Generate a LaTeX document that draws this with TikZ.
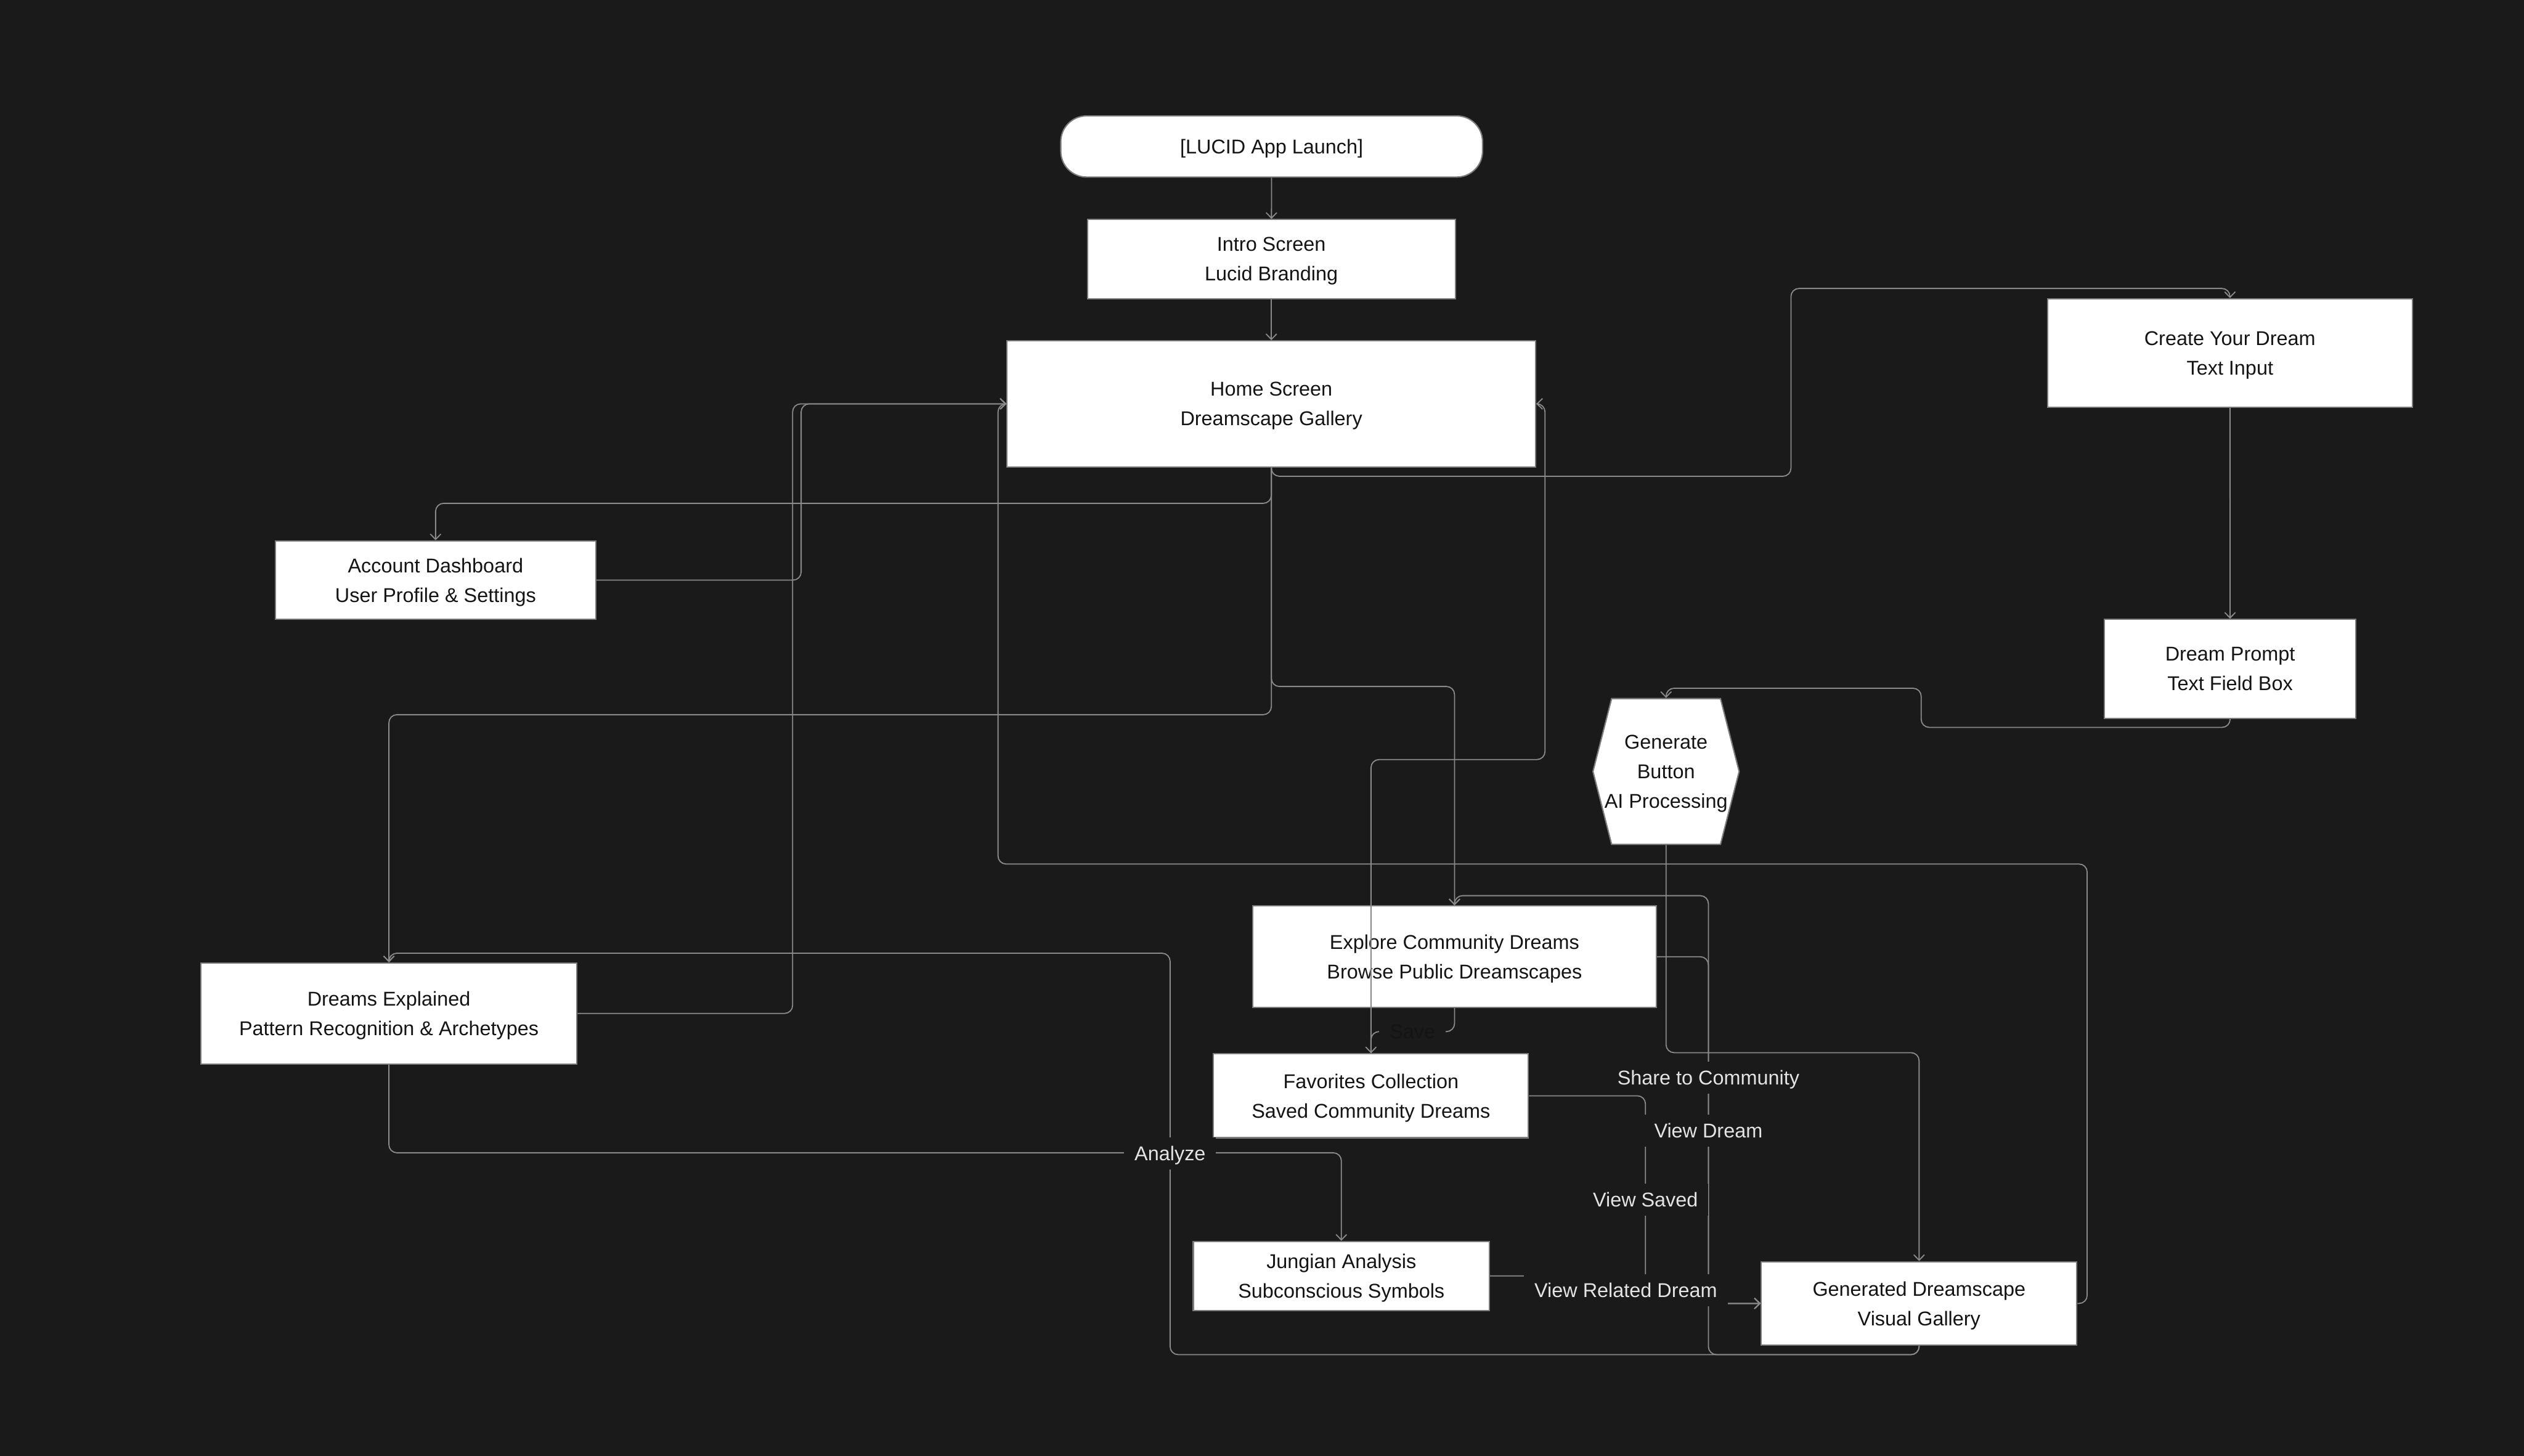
\documentclass[tikz,border=0pt]{standalone}
\usepackage{fontspec}
\setmainfont{Liberation Sans}
\usetikzlibrary{arrows.meta}

\definecolor{fons}{HTML}{1B1A1B}
\definecolor{linia}{HTML}{8A8A8A}
\definecolor{vora}{HTML}{7C7C7C}
\definecolor{textclar}{HTML}{E4E4E4}
\definecolor{textfosc}{HTML}{141414}

\begin{document}
\begin{tikzpicture}[x=1pt, y=-1pt,
    screen/.style={draw=vora, line width=0.8pt, fill=white, text=textfosc, align=center,
        font=\fontsize{12.4}{18.3}\selectfont, inner sep=0pt, text depth=0pt},
    flow/.style={draw=linia, line width=0.7pt, rounded corners=5pt,
        -{Straight Barb[length=3.4pt, width=6.6pt]}},
    edgelabel/.style={fill=fons, text=textclar, font=\fontsize{12.4}{15}\selectfont,
        inner xsep=6.5pt, inner ysep=0pt, text height=8.9pt, text depth=0pt, minimum height=20pt}]

    % FONS
    \fill[fons] (0,0) rectangle (1568,904.4);
    \useasboundingbox (0,0) rectangle (1568,904.4);

    % PANTALLES
    \node[screen, rounded corners=16pt, minimum width=262pt, minimum height=38pt] (launch) at (790,91) {[LUCID App Launch]};
    \node[screen, minimum width=228.5pt, minimum height=49.2pt] (intro) at (789.8,161) {Intro Screen\\Lucid Branding};
    \node[screen, minimum width=328.3pt, minimum height=78.3pt] (home) at (789.8,250.9) {Home Screen\\Dreamscape Gallery};
    \node[screen, minimum width=226.7pt, minimum height=67.4pt] (create) at (1385.3,219.3) {Create Your Dream\\Text Input};
    \node[screen, minimum width=199.2pt, minimum height=48.7pt] (account) at (270.6,360.4) {Account Dashboard\\User Profile \& Settings};
    \node[screen, minimum width=156.3pt, minimum height=61.4pt] (prompt) at (1385.4,415.5) {Dream Prompt\\Text Field Box};

    % Boto hexagonal
    \draw[draw=vora, line width=0.8pt, fill=white] (989.6,479.3) -- (1001.2,434) -- (1068.8,434)
        -- (1080.4,479.3) -- (1068.8,524.6) -- (1001.2,524.6) -- cycle;
    \node[screen, draw=none, fill=none, minimum width=90.8pt, minimum height=90.6pt] (generate) at (1035,479.3) {Generate\\Button\\AI Processing};

    \node[screen, minimum width=250.8pt, minimum height=63.1pt] (explore) at (903.6,594.4) {Explore Community Dreams\\Browse Public Dreamscapes};
    \node[screen, minimum width=233.6pt, minimum height=62.7pt] (explained) at (241.6,629.6) {Dreams Explained\\Pattern Recognition \& Archetypes};
    \node[screen, minimum width=195.6pt, minimum height=52.1pt] (favorites) at (851.7,680.8) {Favorites Collection\\Saved Community Dreams};
    \node[screen, minimum width=184pt, minimum height=42.9pt] (jungian) at (833.3,792.7) {Jungian Analysis\\Subconscious Symbols};
    \node[screen, minimum width=196pt, minimum height=51.9pt] (generated) at (1192.2,809.8) {Generated Dreamscape\\Visual Gallery};

    % FLUX PRINCIPAL
    \draw[flow] (launch) -- (intro);
    \draw[flow] (intro) -- (home);
    \draw[flow] (home.south) |- (1112.6,295.9) |- ([yshift=6pt]create.north) -- (create.north);
    \draw[flow] (create) -- (prompt);
    \draw[flow] (prompt.south) |- (1193.5,451.9) |- ([yshift=6pt]generate.north) -- (generate.north);
    \draw[flow] (generate.south) |- (1192.2,654) -- (generated.north);
    \draw[flow] (generated.east) -- ++(6,0) |- (620,536.8) |- (home.west);

    % COMPTE I SOMNIS
    \draw[flow] (home.south) |- (270.6,312.7) -- (account.north);
    \draw[flow] (account.east) -| (497.7,250.9) -- (home.west);
    \draw[flow] (home.south) |- (241.6,444) -- (explained.north);
    \draw[flow] (explained.east) -| (492.4,250.9) -- (home.west);
    \draw[flow] (generated.south) |- (726.9,841.6) |- (241.6,592.2) -- (explained.north);
    \draw[flow] (explained.south) |- (833.3,716.2) -- (jungian.north);
    \draw[flow] (jungian.east) -- (1010,792.7) |- (generated.west);

    % COMUNITAT
    \draw[flow] (home.south) |- (903.6,426.5) -- (explore.north);
    \draw[flow] (explore.south) |- (851.7,640.9) -- (favorites.north);
    \draw[flow] (favorites.north) |- (959.8,471.9) |- (home.east);
    \draw[flow] (favorites.east) -| (1022.2,809.8) -- (generated.west);
    \draw[flow] (explore.east) -| (1061.3,809.8) -- (generated.west);
    \draw[flow] (generated.south) |- (1061.3,841.6) |- ([yshift=6pt]explore.north) -- (explore.north);

    % ETIQUETES
    \foreach \nom/\px/\py/\txt in {analyze/726.9/716.6/Analyze, share/1061.3/669.5/Share to Community,
        viewdream/1061.3/702.4/View Dream, viewsaved/1022.2/745.4/View Saved, related/1010/801.5/View Related Dream} {
        \node[edgelabel] (lbl-\nom) at (\px,\py) {\txt};
    }
    \node[edgelabel, text=textfosc] (lbl-save) at (877.5,640.9) {Save};

\end{tikzpicture}
\end{document}
